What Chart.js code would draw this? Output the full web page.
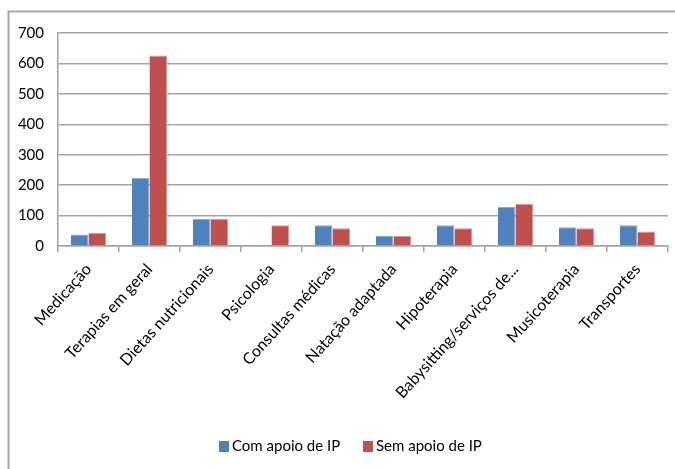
<!DOCTYPE html>
<html>
<head>
<meta charset="utf-8">
<script src="https://cdn.jsdelivr.net/npm/chart.js@4"></script>
<style>
  html, body { margin: 0; padding: 0; background: #fff; }
  #wrap { position: relative; width: 675px; height: 469px; }
  canvas { position: absolute; left: 0; top: 0; }
</style>
</head>
<body>
<div id="wrap"><canvas id="c" width="675" height="469"></canvas></div>
<script>
// Categorias de despesa
const categories = [
  'Medicação',
  'Terapias em geral',
  'Dietas nutricionais',
  'Psicologia',
  'Consultas médicas',
  'Natação adaptada',
  'Hipoterapia',
  'Babysitting/serviços de...',
  'Musicoterapia',
  'Transportes'
];

// Séries
const seriesNames = ['Com apoio de IP', 'Sem apoio de IP'];
const comApoio = [38, 224, 89, 0, 68, 33, 68, 128, 62, 68];
const semApoio = [43, 626, 89, 68, 58, 33, 58, 139, 58, 48];

// Eixo dos valores
const yMax = 700;
const yStep = 100;

const FONT = 'Lato, "Open Sans", sans-serif';
const GRID = '#a3a3a3';

// Moldura: linhas superior e esquerda
const framePlugin = {
  id: 'frame',
  beforeDraw(chart) {
    const ctx = chart.ctx;
    ctx.save();
    ctx.strokeStyle = '#a6a6a6';
    ctx.lineWidth = 2;
    ctx.beginPath();
    ctx.moveTo(8.5, 469);
    ctx.lineTo(8.5, 11.5);
    ctx.lineTo(675, 11.5);
    ctx.stroke();
    ctx.restore();
  }
};

// Legenda em baixo, com quadrado e texto de cada série
const legendPlugin = {
  id: 'legendaInferior',
  afterDraw(chart) {
    const ctx = chart.ctx;
    const items = [{ x: 219 }, { x: 363 }];
    const cy = 446.5;
    ctx.save();
    ctx.font = '15px ' + FONT;
    ctx.textBaseline = 'middle';
    ctx.textAlign = 'left';
    chart.data.datasets.forEach((ds, i) => {
      const x = items[i].x;
      ctx.fillStyle = ds.backgroundColor;
      ctx.fillRect(x, cy - 5.5, 10, 11);
      ctx.fillStyle = '#000';
      ctx.fillText(ds.label, x + 13, cy);
    });
    ctx.restore();
  }
};

new Chart(document.getElementById('c'), {
  type: 'bar',
  data: {
    labels: categories,
    datasets: [
      { label: seriesNames[0], data: comApoio, backgroundColor: '#4F81BD',
        borderColor: '#8DAAD3', borderWidth: { top: 1, right: 1, left: 0, bottom: 0 } },
      { label: seriesNames[1], data: semApoio, backgroundColor: '#C0504D',
        borderColor: '#DA9896', borderWidth: { top: 1, right: 1, left: 0, bottom: 0 } }
    ]
  },
  plugins: [framePlugin, legendPlugin],
  options: {
    responsive: false,
    animation: false,
    devicePixelRatio: 1,
    layout: { padding: { left: 10, right: 7, top: 33, bottom: 40 } },
    datasets: { bar: { categoryPercentage: 0.575, barPercentage: 1.0 } },
    plugins: {
      legend: { display: false },
      tooltip: { enabled: false }
    },
    scales: {
      x: {
        grid: { offset: true, drawOnChartArea: false, tickLength: 6, color: GRID, lineWidth: 1.5 },
        border: { color: GRID, width: 1.5 },
        ticks: {
          autoSkip: false,
          minRotation: 48,
          maxRotation: 48,
          padding: 8,
          color: '#000',
          font: { family: FONT, size: 16 }
        },
        afterFit(scale) { scale.height = 183; }
      },
      y: {
        min: 0,
        max: yMax,
        grid: { color: GRID, lineWidth: 1.5, drawTicks: false },
        border: { color: GRID, width: 1.5 },
        ticks: {
          stepSize: yStep,
          padding: 14,
          color: '#000',
          font: { family: FONT, size: 15 }
        },
        afterFit(scale) { scale.width = 48; }
      }
    }
  }
});
</script>
</body>
</html>
